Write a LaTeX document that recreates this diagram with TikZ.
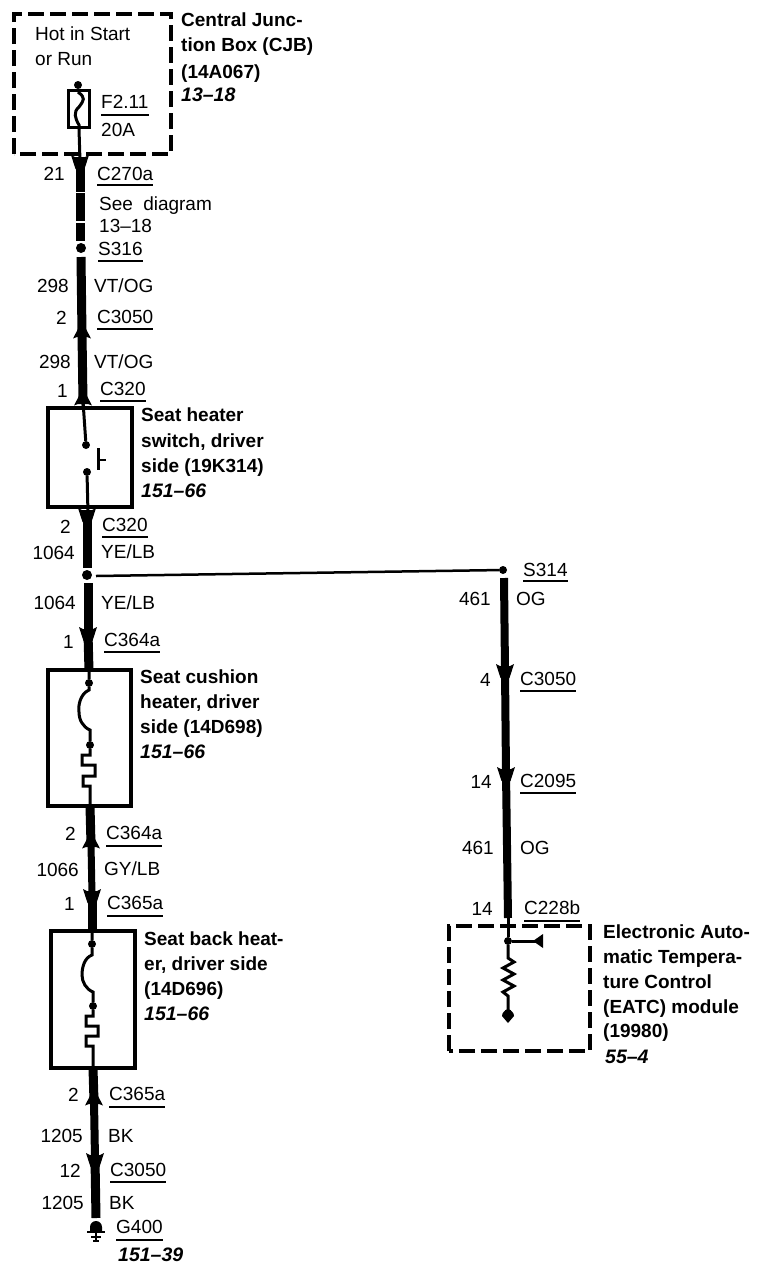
\documentclass[tikz,border=0pt]{standalone}
\usepackage{fontspec}
\setmainfont{Liberation Sans}
\newcommand{\lab}[4]{\node[reg,anchor=base west] (#1) at (#2,#3) {#4};}
\newcommand{\numl}[4]{\node[reg,anchor=base east] (#1) at (#2,#3) {#4};}
\newcommand{\ulab}[5]{\node[reg,anchor=base west] (#1) at (#2,#3) {#4};
  \draw[rulel] ([yshift=-#5pt]#1.base west) -- ([yshift=-#5pt]#1.base east);}
\newcommand{\bldl}[4]{\node[bld,anchor=base west] (#1) at (#2,#3) {#4};}
\newcommand{\ital}[4]{\node[ita,anchor=base west] (#1) at (#2,#3) {#4};}
\newcommand{\cdn}[1]{\fill ([shift={(-9,-6)}]#1) -- ([shift={(-5,-4)}]#1) -- ([shift={(5,-4)}]#1) -- ([shift={(9,-6)}]#1) -- ([shift={(4.5,8)}]#1) -- ([shift={(-4.5,8)}]#1) -- cycle;}
\newcommand{\cupw}[1]{\fill ([shift={(-9,4.5)}]#1) -- ([shift={(-5,3)}]#1) -- ([shift={(-1.5,3)}]#1) -- ([shift={(-1.5,6)}]#1) -- ([shift={(1.5,6)}]#1) -- ([shift={(1.5,3)}]#1) -- ([shift={(5,3)}]#1) -- ([shift={(9,4.5)}]#1) -- ([shift={(3.5,-6)}]#1) -- ([shift={(-3.5,-6)}]#1) -- cycle;}
\begin{document}
\begin{tikzpicture}[x=1pt,y=-1pt,
  reg/.style={inner sep=0pt,font=\fontsize{19}{21}\selectfont},
  bld/.style={inner sep=0pt,font=\fontsize{19}{21}\selectfont\bfseries},
  ita/.style={inner sep=0pt,font=\fontsize{19.5}{21}\selectfont\bfseries\itshape},
  rulel/.style={line width=1.5pt},
  wire/.style={line width=9pt},
  wirer/.style={line width=8pt},
  thinwire/.style={line width=3pt},
  solidbox/.style={draw,line width=4pt,inner sep=0pt},
  dashbox/.style={line width=4pt,dash pattern=on 16pt off 6pt},
  jdot/.style={circle,fill=black,inner sep=0pt,minimum size=#1},
  jdot/.default=8pt]
\useasboundingbox (0,0) rectangle (764,1280);
\fill[white] (0,0) rectangle (764,1280);

% CJB
\draw[dashbox] (14,154) -- (14,14) -- (171,14) -- (171,154) -- cycle;
\lab{hot1}{35}{40}{Hot in Start}
\lab{hot2}{35}{65}{or Run}
\node[jdot=8pt] (fdot) at (78,85) {};
\node[draw,line width=3pt,minimum width=21pt,minimum height=37pt,inner sep=0pt] (fuse) at (79,109) {};
\draw[thinwire] (fdot) -- (fuse.north);
\draw[thinwire] (78,92) .. controls (86,98) and (84,100) .. (79,107) .. controls (73,112) and (75,118) .. (79,125) -- (fuse.south);
\ulab{f211}{101}{108}{F2.11}{7}
\lab{f20}{101}{136}{20A}
\bldl{c1}{181}{26}{Central Junc-}
\bldl{c2}{181}{51}{tion Box (CJB)}
\bldl{c3}{181}{78}{(14A067)}
\ital{c4}{181}{101}{13–18}

% left column upper
\coordinate (a1) at (80,161);
\coordinate (a2) at (80,191.5);
\coordinate (a3) at (80,193);
\coordinate (a4) at (80,221);
\coordinate (a5) at (80,223);
\coordinate (a6) at (80,241);
\node[jdot=10pt] (s316) at (81,248) {};
\coordinate (a7) at (81,257);
\coordinate (a8) at (82,334);
\draw[thinwire] (fuse.south) -- (a1);
\cdn{a1}
\draw[wire] (a1) -- (a2);
\draw[wire] (a3) -- (a4);
\draw[wire] (a5) -- (a6);
\draw[wire] (a7) -- (a8);
\cupw{a8}
\numl{n21}{65}{180}{21}
\ulab{c270}{97}{180}{C270a}{5}
\lab{see1}{99}{210}{See\hspace{5pt} diagram}
\lab{see2}{99}{232}{13–18}
\ulab{ls316}{98}{255}{S316}{6}
\numl{n298a}{69}{292}{298}
\lab{vt1}{94}{292}{VT/OG}
\numl{n2a}{67}{324}{2}
\ulab{c3050a}{97}{323}{C3050}{6}

\coordinate (b2) at (83,401);
\draw[wire] (a8) -- (b2);
\cupw{b2}
\numl{n298b}{71}{368}{298}
\lab{vt2}{94}{368}{VT/OG}
\numl{n1a}{68}{397}{1}
\ulab{c320a}{100}{395}{C320}{6}

% switch
\node[solidbox,minimum width=84pt,minimum height=99pt] (sw) at (90,457.5) {};
\node[jdot] (sw1) at (86,445) {};
\node[jdot] (sw2) at (87,472) {};
\draw[thinwire] (b2) -- (sw1);
\draw[thinwire] (sw2) -- (88,514);
\draw[line width=3pt] (98.5,448) -- (98.5,470);
\draw[line width=2.5pt] (98,460) -- (106,460);
\bldl{h1}{141}{421}{Seat heater}
\bldl{h2}{141}{447}{switch, driver}
\bldl{h3}{141}{472}{side (19K314)}
\ital{h4}{141}{497}{151–66}

\coordinate (d1) at (87,514);
\coordinate (d2) at (87,568);
\node[jdot=10pt] (j1) at (87,575) {};
\coordinate (d3) at (88,583);
\coordinate (d4) at (88,633);
\coordinate (d5) at (89,671);
\cdn{d1}
\draw[wire] (d1) -- (d2);
\draw[wire] (d3) -- (d4);
\cdn{d4}
\draw[wire] (d4) -- (d5);
\numl{n2b}{71}{533}{2}
\ulab{c320b}{102}{531}{C320}{6}
\numl{n1064a}{75}{559}{1064}
\lab{ye1}{101}{558}{YE/LB}
\numl{n1064b}{76}{609}{1064}
\lab{ye2}{101}{609}{YE/LB}
\numl{n1b}{74}{648}{1}
\ulab{c364a}{104}{646}{C364a}{6}

% cushion heater
\node[solidbox,minimum width=83pt,minimum height=136pt] (ch) at (89,738) {};
\node[jdot=8pt] (ch1) at (89,683) {};
\node[jdot=8pt] (ch2) at (90,745) {};
\draw[thinwire] (ch.north -| ch1) -- (ch1) -- (89,690) .. controls (80,694) and (78,706) .. (79,712) .. controls (79,720) and (83,727) .. (90,730) -- (ch2)
  -- (90,755) -- (82,755) -- (82,765) -- (95,765) -- (95,776) -- (83,776) -- (83,786) -- (90,786) -- (90,806);
\bldl{k1}{140}{683}{Seat cushion}
\bldl{k2}{140}{708}{heater, driver}
\bldl{k3}{140}{733}{side (14D698)}
\ital{k4}{140}{758}{151–66}

\coordinate (e1) at (90,806);
\coordinate (e2) at (91,844);
\coordinate (e5) at (92,895);
\coordinate (e6) at (92,931);
\draw[wire] (e1) -- (e2);
\cupw{e2}
\draw[line width=7pt] (e2) -- (e5);
\cdn{e5}
\draw[wire] (e5) -- (e6);
\numl{n2c}{76}{840}{2}
\ulab{c364b}{106}{839}{C364a}{7}
\numl{n1066}{79}{876}{1066}
\lab{gy}{104}{875}{GY/LB}
\numl{n1c}{75}{910}{1}
\ulab{c365a}{107}{909}{C365a}{7}

% back heater
\node[solidbox,minimum width=84pt,minimum height=137pt] (bh) at (93,999.5) {};
\node[jdot=8pt] (bh1) at (92,944) {};
\node[jdot=8pt] (bh2) at (93,1006) {};
\draw[thinwire] (bh.north -| bh1) -- (bh1) -- (92,955) .. controls (84,958) and (82,968) .. (82,975) .. controls (82,982) and (86,989) .. (93,992) -- (bh2)
  -- (93,1016) -- (86,1016) -- (86,1026) -- (98,1026) -- (98,1036) -- (86,1036) -- (86,1046) -- (93,1046) -- (93,1068);
\bldl{m1}{144}{945}{Seat back heat-}
\bldl{m2}{144}{970}{er, driver side}
\bldl{m3}{144}{995}{(14D696)}
\ital{m4}{144}{1020}{151–66}

\coordinate (g1) at (93,1068);
\coordinate (g2) at (94,1101);
\coordinate (g5) at (95,1159);
\coordinate (g6) at (96,1218);
\draw[wire] (g1) -- (g2);
\cupw{g2}
\draw[line width=8pt] (g2) -- (g5);
\cdn{g5}
\draw[wire] (g5) -- (g6);
\node[jdot=1pt] (gnd) at (96,1232) {};
\fill (90,1232) -- (90,1227) arc[start angle=180,end angle=360,radius=6] -- (102,1232) -- cycle;
\draw[line width=2.5pt] (87,1232) -- (105,1232);
\draw[line width=2pt] (91,1237) -- (101,1237);
\draw[line width=2pt] (93,1241) -- (99,1241);
\draw[line width=2pt] (gnd) -- (96,1241);
\numl{n2d}{79}{1101}{2}
\ulab{c365b}{109}{1100}{C365a}{7}
\numl{n1205a}{83}{1142}{1205}
\lab{bk1}{108}{1142}{BK}
\numl{n12}{81}{1177}{12}
\ulab{c3050b}{110}{1176}{C3050}{6}
\numl{n1205b}{84}{1209}{1205}
\lab{bk2}{109}{1209}{BK}
\ulab{g400}{116}{1233}{G400}{7}
\ital{g39}{118}{1261}{151–39}

% right branch
\node[jdot=8pt] (s314) at (503,570) {};
\coordinate (j1e) at (96,576);
\draw[line width=2.5pt] (j1e) -- (s314);
\coordinate (r1) at (504,578);
\coordinate (r2) at (505,670);
\coordinate (r3) at (506,773);
\coordinate (r4) at (508,918);
\draw[wirer] (r1) -- (r2);
\cdn{r2}
\draw[wirer] (r2) -- (r3);
\cdn{r3}
\draw[wirer] (r3) -- (r4);
\ulab{ls314}{523}{576}{S314}{5}
\numl{n461a}{491}{605}{461}
\lab{og1}{516}{605}{OG}
\numl{n4}{491}{686}{4}
\ulab{c3050c}{520}{685}{C3050}{6}
\numl{n14a}{492}{788}{14}
\ulab{c2095}{520}{787}{C2095}{6}
\numl{n461b}{494}{854}{461}
\lab{og2}{520}{854}{OG}
\numl{n14b}{493}{915}{14}
\ulab{c228}{524}{914}{C228b}{7}

% EATC
\draw[dashbox] (449,1051) -- (449,926) -- (590,926) -- (590,1051) -- cycle;
\node[jdot=8pt] (q1) at (508,941) {};
\coordinate (q2) at (537,941);
\coordinate (q3) at (508,1015);
\draw[thinwire] (r4) -- (q1) -- (q2);
\fill (533,941) -- (543,934) -- (543,948) -- cycle;
\draw[thinwire] (q1) -- (508,958) -- (514,962) -- (503,968) -- (514,974) -- (503,980) -- (514,986) -- (503,992) -- (508,996) -- (q3);
\fill (508,1023) -- (502,1016) arc[start angle=180,end angle=360,radius=6] -- cycle;
\node[jdot=8pt] (q4) at (508,1013) {};
\bldl{t1}{603}{938}{Electronic Auto-}
\bldl{t2}{603}{963}{matic Tempera-}
\bldl{t3}{603}{988}{ture Control}
\bldl{t4}{603}{1013}{(EATC) module}
\bldl{t5}{603}{1037}{(19980)}
\ital{t6}{605}{1063}{55–4}
\end{tikzpicture}
\end{document}
